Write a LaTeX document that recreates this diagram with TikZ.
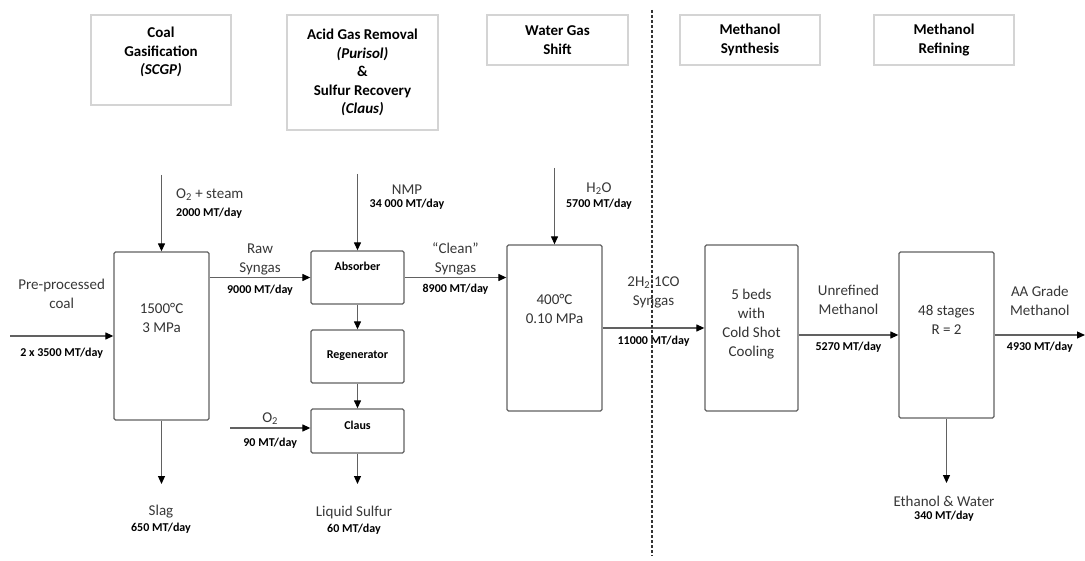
\documentclass[tikz,border=0pt]{standalone}
\usepackage{fontspec}
\setmainfont{Carlito}
\usetikzlibrary{arrows.meta,positioning}

\begin{document}
\begin{tikzpicture}[
      x=1pt, y=-1pt,
      stage/.style={draw=black!17, line width=1.5pt, align=center, inner sep=0pt, font=\bfseries\fontsize{15}{18.5}\selectfont},
      unit/.style={draw=black!62, line width=1.3pt, rounded corners=1.5pt, inner sep=0pt},
      inside/.style={align=center, text=black!80, font=\fontsize{15}{19}\selectfont},
      tag/.style={align=center, font=\bfseries\fontsize{12}{14}\selectfont},
      stream/.style={align=center, inner sep=1pt, text=black!78, font=\fontsize{15}{19}\selectfont},
      rate/.style={inner sep=1pt, font=\bfseries\fontsize{12}{14}\selectfont},
      arrow/.style={draw=black!62, line width=1.2pt, -{Triangle[length=8pt, width=7pt, color=black]}},
      divider/.style={draw=black!80, line width=1.2pt, dash pattern=on 3pt off 2pt}
    ]
    \useasboundingbox[fill=white] (0,0) rectangle (1085,561);

    \node[stage, minimum width=140pt, minimum height=90pt] (hdcoal) at (161,60) {Coal\\Gasification\\\textit{(SCGP)}\\~};
    \node[stage, minimum width=151pt, minimum height=115pt] (hdacid) at (362.5,72.5) {Acid Gas Removal\\\textit{(Purisol)}\\\&\\Sulfur Recovery\\\textit{(Claus)}};
    \node[stage, minimum width=141pt, minimum height=50pt] (hdwgs) at (557.5,40) {Water Gas\\Shift};
    \node[stage, minimum width=140pt, minimum height=50pt] (hdsynth) at (750,40) {Methanol\\Synthesis};
    \node[stage, minimum width=140pt, minimum height=50pt] (hdrefine) at (944,40) {Methanol\\Refining};

    \node[unit, minimum width=95pt, minimum height=168pt, label={[inside, yshift=18.5pt]center:{1500°C\\3 MPa}}] (gasifier) at (161.5,336) {};
    \node[unit, minimum width=93pt, minimum height=53pt, label={[tag, yshift=11pt]center:Absorber}] (absorber) at (357.5,277.5) {};
    \node[unit, minimum width=93pt, minimum height=53pt, label={[tag, yshift=1pt]center:Regenerator}] (regen) at (357.5,356.5) {};
    \node[unit, minimum width=93pt, minimum height=44pt, label={[tag, yshift=6pt]center:Claus}] (claus) at (357.5,431) {};
    \node[unit, minimum width=95pt, minimum height=166pt, label={[inside, yshift=19pt]center:{400°C\\0.10 MPa}}] (wgs) at (554.5,328) {};
    \node[unit, minimum width=93pt, minimum height=166pt, label={[inside, yshift=4pt]center:{5 beds\\with\\Cold Shot\\Cooling}}] (synth) at (751.5,328) {};
    \node[unit, minimum width=95pt, minimum height=166pt, label={[inside, yshift=15pt]center:{48 stages\\R = 2}}] (refining) at (946.5,335) {};

    \coordinate (coalin) at (10,336);
    \coordinate (steamin) at (161.5,175);
    \coordinate (nmpin) at (357.5,174);
    \coordinate (o2in) at (230,428);
    \coordinate (waterin) at (554.5,168);
    \coordinate (slagout) at (161.5,484);
    \coordinate (sulfurout) at (357.5,484);
    \coordinate (aaout) at (1085,335);
    \coordinate (etohout) at (946.5,483);

    \draw[arrow] (coalin) -- node[stream, above=25.5pt] (coallbl) {Pre-processed\\coal} node[rate, below=10pt] (coalrate) {2 x 3500 MT/day} (gasifier);
    \draw[arrow] (gasifier.east |- absorber) -- node[stream, above=0.5pt] (rawlbl) {Raw\\Syngas} node[rate, below=6pt] (rawrate) {9000 MT/day} (absorber);
    \draw[arrow] (absorber) -- node[stream, above=0.5pt] (cleanlbl) {``Clean''\\Syngas} node[rate, below=5pt] (cleanrate) {8900 MT/day} (absorber -| wgs.west);
    \draw[arrow] (wgs) -- node[stream, above=18pt] (shiftlbl) {2H\textsubscript{2}:1CO\\Syngas} node[rate, below=6pt] (shiftrate) {11000 MT/day} (synth);
    \draw[arrow] (synth.east |- refining) -- node[stream, above=19pt] (crudelbl) {Unrefined\\Methanol} node[rate, below=5pt] (cruderate) {5270 MT/day} (refining);
    \draw[arrow] (refining) -- node[stream, above=18pt] (aalbl) {AA Grade\\Methanol} node[rate, below=5pt] (aarate) {4930 MT/day} (aaout);
    \draw[arrow] (o2in) -- node[stream, above=2pt] (o2lbl) {O\textsubscript{2}} node[rate, below=8pt] (o2rate) {90 MT/day} (o2in -| claus.west);

    \draw[arrow] (steamin) -- (gasifier);
    \draw[arrow] (nmpin) -- (absorber);
    \draw[arrow] (waterin) -- (wgs);
    \draw[arrow] (absorber) -- (regen);
    \draw[arrow] (regen) -- (claus);
    \draw[arrow] (gasifier) -- (slagout);
    \draw[arrow] (claus) -- (sulfurout);
    \draw[arrow] (refining) -- (etohout);

    \node[stream, anchor=west] (steamlbl) at (175,195) {O\textsubscript{2} + steam};
    \node[rate, anchor=west] (steamrate) at (175,213) {2000 MT/day};
    \node[stream] (nmplbl) at (407,190) {NMP};
    \node[rate, below=2pt of nmplbl] (nmprate) {34 000 MT/day};
    \node[stream] (waterlbl) at (599,189) {H\textsubscript{2}O};
    \node[rate, below=2pt of waterlbl] (waterrate) {5700 MT/day};
    \node[stream] (slaglbl) at (161,512) {Slag};
    \node[rate, below=2pt of slaglbl] (slagrate) {650 MT/day};
    \node[stream] (sulfurlbl) at (354,513) {Liquid Sulfur};
    \node[rate, below=2pt of sulfurlbl] (sulfurrate) {60 MT/day};
    \node[stream] (etohlbl) at (944,501) {Ethanol \& Water};
    \node[rate, below=2pt of etohlbl] (etohrate) {340 MT/day};

    \coordinate (divtop) at (652,10);
    \coordinate (divbot) at (652,556);
    \draw[divider] (divtop) -- (divbot);
  \end{tikzpicture}
\end{document}
